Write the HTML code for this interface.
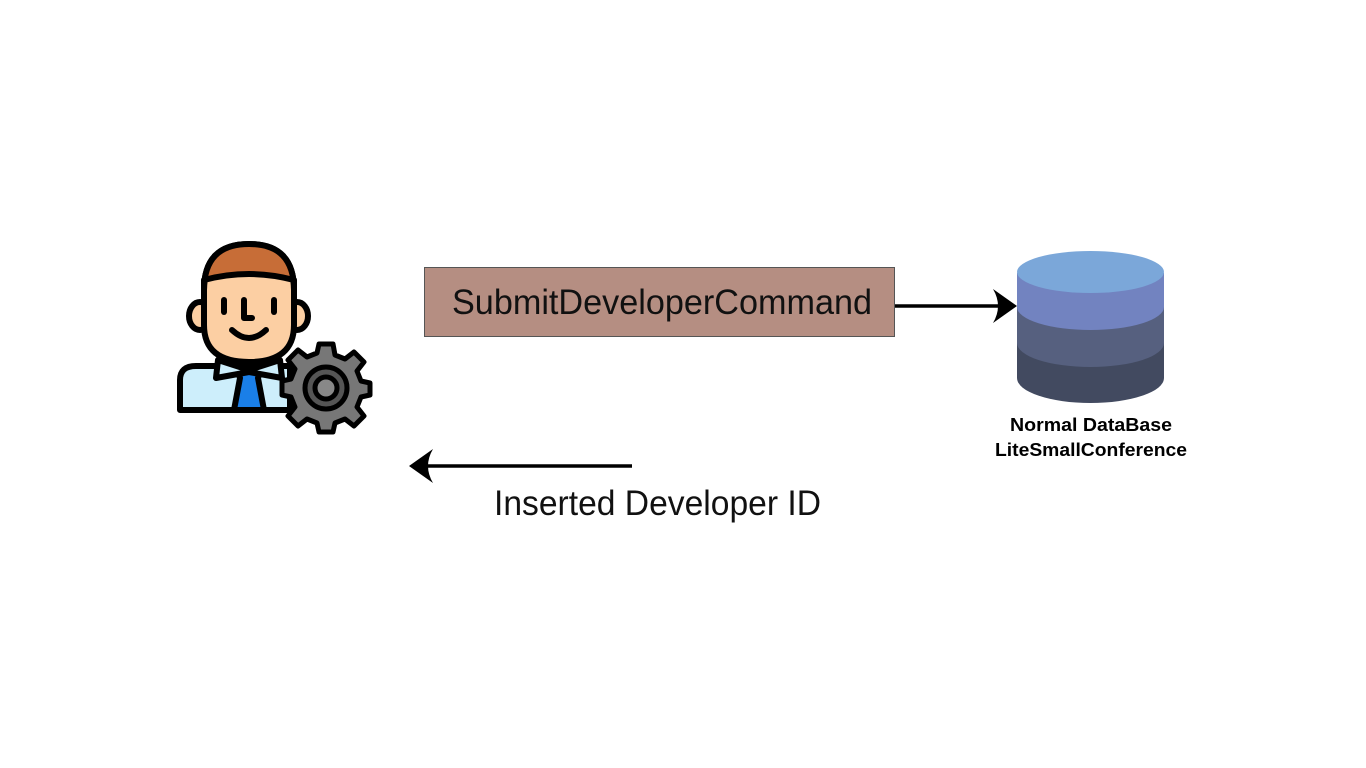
<!DOCTYPE html>
<html><head><meta charset="utf-8"><style>html,body{margin:0;padding:0;background:#fff}svg{display:block}</style></head>
<body>
<svg width="1366" height="768" viewBox="0 0 1366 768" xmlns="http://www.w3.org/2000/svg" font-family="Liberation Sans, sans-serif">
<rect width="1366" height="768" fill="#fff"/>
<!-- Command box -->
<rect x="424.5" y="267.5" width="470" height="69" fill="#b58e82" stroke="#555" stroke-width="1"/>
<text x="452" y="314" font-size="35" fill="#111" textLength="420" lengthAdjust="spacingAndGlyphs">SubmitDeveloperCommand</text>
<!-- right arrow -->
<line x1="895" y1="306" x2="1006" y2="306" stroke="#000" stroke-width="3.5"/>
<path d="M1017 306 L993 289 Q1003 306 993 323 Z" fill="#000"/>
<!-- left arrow -->
<line x1="632" y1="466" x2="420" y2="466" stroke="#000" stroke-width="3.5"/>
<path d="M409 466 L433 449 Q423 466 433 483 Z" fill="#000"/>
<text x="494" y="515" font-size="35" fill="#111" textLength="327" lengthAdjust="spacingAndGlyphs">Inserted Developer ID</text>
<!-- database -->
<path d="M1017 343 L1017 378 A73.5 25 0 0 0 1164 378 L1164 343 Z" fill="#424a60"/>
<path d="M1017 307 L1017 343 A73.5 24 0 0 0 1164 343 L1164 307 Z" fill="#56607f"/>
<path d="M1017 273 L1017 307 A73.5 23 0 0 0 1164 307 L1164 273 Z" fill="#7283c0"/>
<ellipse cx="1090.5" cy="272" rx="73.5" ry="21" fill="#7ba7d9"/>
<text x="1091" y="431" font-size="18" font-weight="bold" text-anchor="middle" fill="#000" textLength="162" lengthAdjust="spacingAndGlyphs">Normal DataBase</text>
<text x="1091" y="456" font-size="18" font-weight="bold" text-anchor="middle" fill="#000" textLength="192" lengthAdjust="spacingAndGlyphs">LiteSmallConference</text>
<!-- person -->
<g stroke="#000" stroke-width="6" stroke-linejoin="round" stroke-linecap="round">
 <path d="M180 410 L180 380 Q180 366 196 366 L290 366 L290 410 Z" fill="#cdeefb"/>
 <path d="M236 366 L262 366 L258 378 L264 410 L234 410 L240 378 Z" fill="#1a7fe8"/>
 <path d="M218 360 L249 370 L280 360 L282 378 L249 372 L216 378 Z" fill="#cdeefb"/>
 <ellipse cx="200" cy="316" rx="11" ry="14" fill="#fccfa3"/>
 <ellipse cx="297" cy="316" rx="11" ry="14" fill="#fccfa3"/>
 <path d="M204 290 Q204 244 249 244 Q294 244 294 290 L294 325 Q294 362 249 362 Q204 362 204 325 Z" fill="#fccfa3"/>
 <path d="M204 290 Q204 244 249 244 Q294 244 294 290 L294 280 Q249 268 204 280 Z" fill="#c76d37"/>
 <line x1="224" y1="300" x2="224" y2="312" fill="none"/>
 <line x1="274" y1="300" x2="274" y2="312" fill="none"/>
 <path d="M244 300 L244 318 L252 318" fill="none"/>
 <path d="M232 330 Q249 346 266 330" fill="none"/>
</g>
<!-- gear -->
<g transform="translate(326,388)">
 <g fill="#777" stroke="#000" stroke-width="5" stroke-linejoin="round">
  <path d="M-7,-44 L7,-44 L9,-33 L19,-29 L28,-36 L38,-26 L31,-17 L35,-7 L44,-5 L44,7 L35,9 L31,19 L38,28 L28,38 L19,31 L9,35 L7,44 L-7,44 L-9,35 L-19,31 L-28,38 L-38,28 L-31,19 L-35,9 L-44,7 L-44,-7 L-35,-9 L-31,-19 L-38,-28 L-28,-38 L-19,-31 L-9,-35 Z"/>
  <circle r="21" fill="#555"/>
  <circle r="11" fill="#888"/>
 </g>
</g>
</svg>
</body></html>
